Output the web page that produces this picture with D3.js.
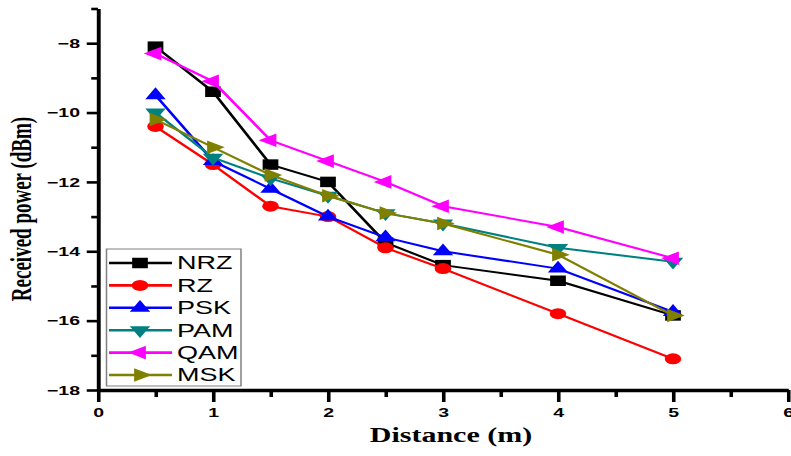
<!DOCTYPE html>
<html>
<head>
<meta charset="utf-8">
<script src="https://cdn.jsdelivr.net/npm/d3@7"></script>
<style>
  html, body { margin: 0; padding: 0; background: #fff; }
  svg { display: block; }
</style>
</head>
<body>
<svg id="chart" width="791" height="456"></svg>
<script>
// Received power versus distance for six modulation formats
const distances = [0.5, 1, 1.5, 2, 2.5, 3, 4, 5];
const seriesNames = ["NRZ", "RZ", "PSK", "PAM", "QAM", "MSK"];
const nrz = [-8.1, -9.4, -11.5, -12.0, -13.75, -14.4, -14.85, -15.85];
const rz  = [-10.4, -11.5, -12.7, -13.0, -13.9, -14.5, -15.8, -17.1];
const psk = [-9.5, -11.4, -12.2, -13.0, -13.6, -14.0, -14.5, -15.75];
const pam = [-10.0, -11.3, -11.9, -12.4, -12.9, -13.2, -13.9, -14.3];
const qam = [-8.3, -9.1, -10.8, -11.4, -12.0, -12.7, -13.3, -14.2];
const msk = [-10.2, -11.0, -11.8, -12.4, -12.9, -13.2, -14.1, -15.85];
const xTickValues = [0, 1, 2, 3, 4, 5, 6];
const yTickValues = [-18, -16, -14, -12, -10, -8];

const seriesValues = [nrz, rz, psk, pam, qam, msk];
const colors = ["#000000", "#ff0000", "#0000ff", "#008080", "#ff00ff", "#808000"];
// marker shape and rotation per series
const shapes = [
  { type: d3.symbolSquare, size: 110, rot: 0 },
  { type: d3.symbolCircle, size: 95, rot: 0 },
  { type: d3.symbolTriangle, size: 80, rot: 0 },
  { type: d3.symbolTriangle, size: 80, rot: 180 },
  { type: d3.symbolTriangle, size: 80, rot: -90 },
  { type: d3.symbolTriangle, size: 80, rot: 90 }
];

// the figure is laid out in a narrower frame and stretched horizontally
const sx = 1.5;
const svg = d3.select("#chart");
const g = svg.append("g").attr("transform", `scale(${sx},1)`);

const x = d3.scaleLinear().domain([0, 6]).range([98 / sx, 788 / sx]);
const y = d3.scaleLinear().domain([-18, -7]).range([390, 8.5]);

// minor ticks
g.append("g")
  .attr("transform", `translate(0,${y(-18)})`)
  .call(d3.axisBottom(x).tickValues(d3.range(0.5, 6, 1)).tickSize(7).tickFormat("").tickSizeOuter(0))
  .call(a => a.select(".domain").remove())
  .call(a => a.selectAll("line").attr("stroke", "#000").attr("stroke-width", 2.4));
g.append("g")
  .attr("transform", `translate(${x(0)},0)`)
  .call(d3.axisLeft(y).tickValues(d3.range(-17, -6, 2)).tickSize(4.5).tickFormat("").tickSizeOuter(0))
  .call(a => a.select(".domain").remove())
  .call(a => a.selectAll("line").attr("stroke", "#000").attr("stroke-width", 2.6));

// major x axis
const xAxis = g.append("g")
  .attr("transform", `translate(0,${y(-18)})`)
  .call(d3.axisBottom(x).tickValues(xTickValues).tickSize(12).tickPadding(6).tickSizeOuter(0).tickFormat(d3.format("d")));
xAxis.select(".domain").attr("stroke", "#000").attr("stroke-width", 3.6);
xAxis.selectAll("line").attr("stroke", "#000").attr("stroke-width", 2.4);
xAxis.selectAll("text")
  .attr("font-family", "Arial, 'Liberation Sans', sans-serif")
  .attr("font-weight", "bold").attr("font-size", 13).attr("fill", "#000");

// major y axis
const yAxis = g.append("g")
  .attr("transform", `translate(${x(0)},0)`)
  .call(d3.axisLeft(y).tickValues(yTickValues).tickSize(7.5).tickPadding(4.5).tickSizeOuter(0).tickFormat(d3.format("d")));
yAxis.select(".domain").attr("stroke", "#000").attr("stroke-width", 2.6);
yAxis.selectAll("line").attr("stroke", "#000").attr("stroke-width", 2.6);
yAxis.selectAll("text")
  .attr("font-family", "Arial, 'Liberation Sans', sans-serif")
  .attr("font-weight", "bold").attr("font-size", 13).attr("fill", "#000");

// axis titles
g.append("text")
  .attr("x", 451 / sx).attr("y", 442)
  .attr("text-anchor", "middle")
  .attr("font-family", "'Times New Roman', 'Liberation Serif', serif")
  .attr("font-weight", "bold").attr("font-size", 20)
  .text("Distance (m)");
g.append("text")
  .attr("transform", `translate(${31 / sx},209) rotate(-90)`)
  .attr("text-anchor", "middle")
  .attr("font-family", "'Times New Roman', 'Liberation Serif', serif")
  .attr("font-weight", "bold").attr("font-size", 19)
  .text("Received power (dBm)");

// series lines and markers
const line = d3.line().x(d => x(d[0])).y(d => y(d[1]));
const symbolPath = s => d3.symbol().type(s.type).size(s.size)();

seriesValues.forEach((vals, i) => {
  const pts = distances.map((d, j) => [d, vals[j]]);
  const sg = g.append("g");
  sg.append("path")
    .attr("d", line(pts))
    .attr("fill", "none")
    .attr("stroke", colors[i])
    .attr("stroke-width", 2)
    .attr("stroke-linejoin", "round");
  sg.selectAll("path.mk")
    .data(pts)
    .join("path")
    .attr("class", "mk")
    .attr("d", symbolPath(shapes[i]))
    .attr("transform", d => `translate(${x(d[0])},${y(d[1])}) rotate(${shapes[i].rot})`)
    .attr("fill", colors[i]);
});

// legend
const legend = g.append("g");
legend.append("rect")
  .attr("x", 106.5 / sx).attr("y", 249)
  .attr("width", (241 - 106.5) / sx).attr("height", 137)
  .attr("fill", "#fff")
  .attr("stroke", "#808080").attr("stroke-width", 1);
const rowY = d3.scaleLinear().domain([0, 5]).range([263, 375]);
seriesNames.forEach((name, i) => {
  const ry = rowY(i);
  legend.append("line")
    .attr("x1", 109 / sx).attr("x2", 172 / sx)
    .attr("y1", ry).attr("y2", ry)
    .attr("stroke", colors[i]).attr("stroke-width", 2.6);
  legend.append("path")
    .attr("d", symbolPath(shapes[i]))
    .attr("transform", `translate(${140 / sx},${ry}) rotate(${shapes[i].rot})`)
    .attr("fill", colors[i]);
  legend.append("text")
    .attr("x", 177 / sx).attr("y", ry)
    .attr("dy", "0.36em")
    .attr("font-family", "Arial, 'Liberation Sans', sans-serif")
    .attr("font-size", 18)
    .attr("fill", "#000")
    .text(name);
});
</script>
</body>
</html>
